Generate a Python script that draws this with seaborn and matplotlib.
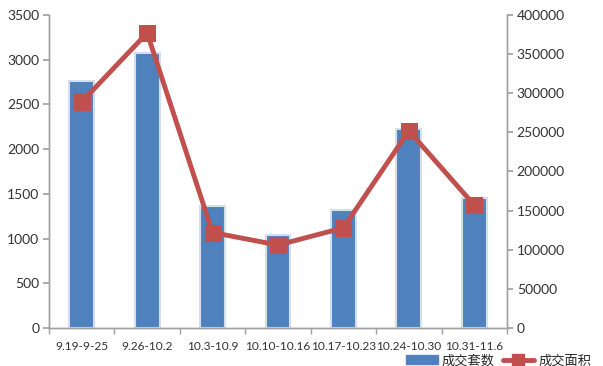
import matplotlib
matplotlib.use("Agg")
import matplotlib.pyplot as plt
import seaborn as sns
import numpy as np
import pandas as pd
from matplotlib.lines import Line2D
from matplotlib.patches import Patch

categories = ["9.19-9-25", "9.26-10.2", "10.3-10.9", "10.10-10.16", "10.17-10.23", "10.24-10.30", "10.31-11.6"]
units_sold = [2760, 3070, 1365, 1040, 1320, 2225, 1450]
area_sold = [289000, 377000, 122000, 106000, 128000, 252000, 157000]
bar_label = "成交套数"
line_label = "成交面积"

sns.set_theme(style="white")
plt.rcParams['font.family'] = ['Lato', 'Noto Sans CJK SC', 'DejaVu Sans']

df = pd.DataFrame({"cat": categories, "units": units_sold, "area": area_sold})

fig = plt.figure(figsize=(6.03, 3.66), dpi=100)
ax = fig.add_axes([49/603, 1-328/366, (507-49)/603, (328-15)/366])

sns.barplot(data=df, x="cat", y="units", ax=ax, color="#4F81BD", width=0.38,
            edgecolor="#D5DFEC", linewidth=1.5, saturation=1)
ax2 = ax.twinx()
sns.lineplot(x=np.arange(len(categories)), y=df["area"], ax=ax2, color="#C0504D",
             linewidth=3.5, marker="s", markersize=11, markeredgecolor="#C0504D",
             markerfacecolor="#C0504D")

ax.set_xlim(-0.5, len(categories) - 0.5)
ax.set_ylim(0, 3500)
ax.set_yticks(np.arange(0, 3501, 500))
ax2.set_ylim(0, 400000)
ax2.set_yticks(np.arange(0, 400001, 50000))
ax.set_xlabel("")
ax.set_ylabel("")
ax2.set_ylabel("")

gray = "#A0A0A0"
for a in (ax, ax2):
    for s in a.spines.values():
        s.set_color(gray)
        s.set_linewidth(1)
    a.spines["top"].set_visible(False)
    a.tick_params(colors="#333333", labelsize=10)
ax.tick_params(axis="y", left=True, length=4, color=gray, direction="out", pad=3)
ax2.tick_params(axis="y", right=True, length=4, color=gray, direction="out", pad=3)
ax.tick_params(axis="x", bottom=False, pad=3, labelsize=8.6)
ax.set_xticks(np.arange(-0.5, len(categories), 1), minor=True)
ax.tick_params(axis="x", which="minor", bottom=True, length=4, color=gray, direction="out")
for lbl in ax.get_xticklabels():
    lbl.set_color("#333333")

handles = [Patch(facecolor="#4F81BD", edgecolor="#4F81BD"),
           Line2D([0], [0], color="#C0504D", linewidth=3.5, marker="s", markersize=9)]
fig.legend(handles, [bar_label, line_label], loc="lower right", bbox_to_anchor=(1.0, -0.036),
           ncol=2, frameon=False, handlelength=2.4, columnspacing=0.6,
           handletextpad=0.3, prop={'family': ['Noto Sans CJK SC', 'DejaVu Sans'], 'size': 9.5})

fig.savefig("out.png", dpi=100)
